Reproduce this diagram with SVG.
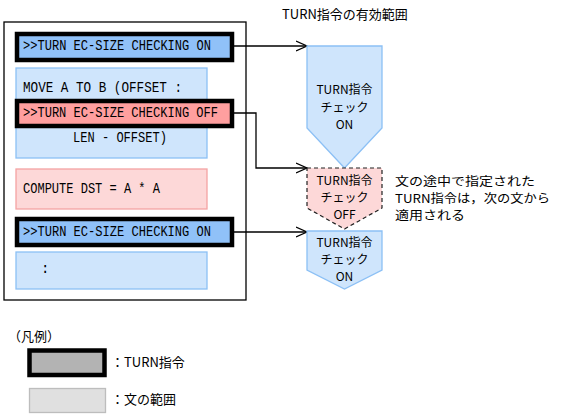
<svg xmlns="http://www.w3.org/2000/svg" width="588" height="418" viewBox="0 0 588 418">
<defs>
<style>
.mono{font-family:"Liberation Mono","Noto Sans CJK JP",monospace;font-size:14px;fill:#000}
.jp{font-family:"Noto Sans CJK JP","Noto Sans",sans-serif;font-size:13px;fill:#000}
.pj{font-family:"Noto Sans CJK JP","Noto Sans",sans-serif;font-size:12px;fill:#000;text-anchor:middle}
.nt{font-family:"Noto Sans CJK JP","Noto Sans",sans-serif;font-size:12px;fill:#000}
.turn{stroke:#000;stroke-width:4.5}
.on{fill:#90c1f8}
.off{fill:#ff9f9f}
.sb{fill:#cfe5fc;stroke:#8cc0f5;stroke-width:1.3}
.sp{fill:#fdd8d8;stroke:#f4a3a3;stroke-width:1.3}
.ln{fill:none;stroke:#000;stroke-width:1.3}
</style>
<marker id="arr" markerWidth="12" markerHeight="12" refX="11" refY="6" orient="auto" markerUnits="userSpaceOnUse">
<path d="M0,1 L11,6 L0,11" fill="none" stroke="#000" stroke-width="1.2"/>
</marker>
</defs>
<rect width="588" height="418" fill="#fff"/>
<g id="title"><text class="jp" x="282" y="19" font-size="13.5">TURN指令の有効範囲</text></g>
<g id="program">
<rect x="4" y="22" width="242" height="278" fill="#fff" stroke="#000" stroke-width="1.3"/>
</g>
<g id="stmt-move">
<rect class="sb" x="16" y="68" width="191" height="90"/>
<text class="mono" x="23" y="92" textLength="159" lengthAdjust="spacingAndGlyphs">MOVE A TO B (OFFSET :</text>
<text class="mono" x="73" y="142" textLength="94" lengthAdjust="spacingAndGlyphs">LEN - OFFSET)</text>
</g>
<g id="stmt-compute">
<rect class="sp" x="16" y="169" width="191" height="40"/>
<text class="mono" x="23" y="193" textLength="137" lengthAdjust="spacingAndGlyphs">COMPUTE DST = A * A</text>
</g>
<g id="stmt-rest">
<rect class="sb" x="16" y="252" width="191" height="37"/>
<text class="mono" x="41" y="273">:</text>
</g>
<g id="turn-on-1">
<rect class="turn on" x="17" y="34" width="215" height="26"/>
<text class="mono" x="23" y="50" textLength="188" lengthAdjust="spacingAndGlyphs">&gt;&gt;TURN EC-SIZE CHECKING ON</text>
</g>
<g id="turn-off">
<rect class="turn off" x="17" y="101" width="215" height="25"/>
<text class="mono" x="23" y="117" textLength="195" lengthAdjust="spacingAndGlyphs">&gt;&gt;TURN EC-SIZE CHECKING OFF</text>
</g>
<g id="turn-on-2">
<rect class="turn on" x="17" y="219" width="215" height="26"/>
<text class="mono" x="23" y="236" textLength="188" lengthAdjust="spacingAndGlyphs">&gt;&gt;TURN EC-SIZE CHECKING ON</text>
</g>
<g id="connectors">
<path class="ln" d="M234,46 H307" marker-end="url(#arr)"/>
<path class="ln" d="M234,113 H256 V168 H307" marker-end="url(#arr)"/>
<path class="ln" d="M234,232 H307" marker-end="url(#arr)"/>
</g>
<g id="range-on-1">
<path class="sb" d="M307,46 H382 V128 L344.5,168 L307,128 Z"/>
<text class="pj" x="344.5" y="94">TURN指令</text>
<text class="pj" x="344.5" y="112">チェック</text>
<text class="pj" x="344.5" y="129">ON</text>
</g>
<g id="range-off">
<path d="M307,168 H382 V208 L344.5,229 L307,208 Z" fill="#fdd8d8" stroke="#222" stroke-width="1.2" stroke-dasharray="4,3"/>
<text class="pj" x="344.5" y="185">TURN指令</text>
<text class="pj" x="344.5" y="202">チェック</text>
<text class="pj" x="344.5" y="219">OFF</text>
</g>
<g id="range-on-2">
<path class="sb" d="M307,231 H382 V270 L344.5,289 L307,270 Z"/>
<text class="pj" x="344.5" y="247">TURN指令</text>
<text class="pj" x="344.5" y="264">チェック</text>
<text class="pj" x="344.5" y="281">ON</text>
</g>
<g id="note">
<text class="nt" x="395" y="186" textLength="140" lengthAdjust="spacingAndGlyphs">文の途中で指定された</text>
<text class="nt" x="395" y="203" textLength="155" lengthAdjust="spacingAndGlyphs">TURN指令は，次の文から</text>
<text class="nt" x="395" y="220" textLength="70" lengthAdjust="spacingAndGlyphs">適用される</text>
</g>
<g id="legend">
<text class="jp" x="8" y="341">（凡例）</text>
<rect x="29.5" y="350.5" width="75" height="24.5" fill="#b3b3b3" stroke="#000" stroke-width="4.5"/>
<text class="jp" x="111" y="367">：TURN指令</text>
<rect x="29.5" y="388.5" width="76" height="24" fill="#e0e0e0" stroke="#bdbdbd" stroke-width="1.3"/>
<text class="jp" x="111" y="404">：文の範囲</text>
</g>
</svg>
